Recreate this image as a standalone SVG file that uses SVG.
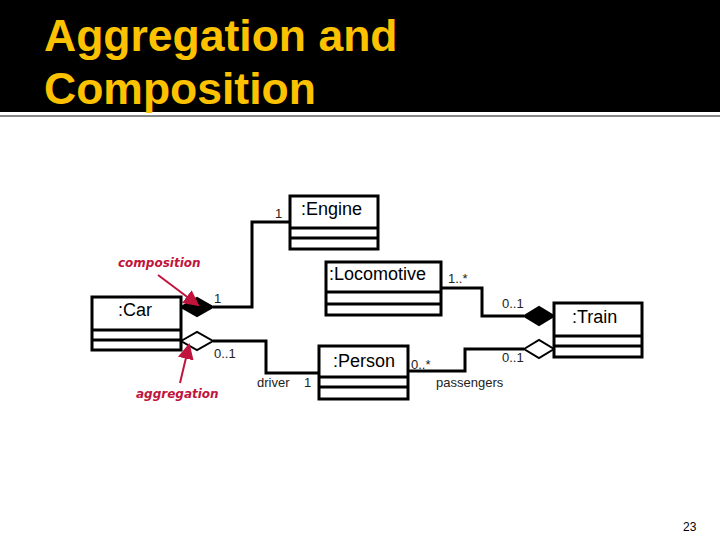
<svg xmlns="http://www.w3.org/2000/svg" width="720" height="540" viewBox="0 0 720 540">
<style>
.b{fill:#fff;stroke:#000;stroke-width:3}
.d{stroke:#000;stroke-width:3}
.c{fill:none;stroke:#000;stroke-width:3}
.n{font-family:"Liberation Sans",Arial,sans-serif;font-size:18px}
.s{font-family:"Liberation Sans",Arial,sans-serif;font-size:13px;fill:#222}
.r{font-family:"Comic Sans MS","DejaVu Sans",sans-serif;font-size:12px;font-style:italic;font-weight:bold;fill:#c0143c}
.t{font-family:"Liberation Sans",Arial,sans-serif;font-size:44.5px;font-weight:bold;fill:#fcc200}
</style>
<defs><marker id="ar" markerWidth="8" markerHeight="8" refX="7" refY="4" orient="auto"><path d="M0,0 L8,4 L0,8 z" fill="#c0143c"/></marker></defs>
<rect x="0" y="0" width="720" height="112" fill="#000"/>
<line x1="0" y1="116" x2="720" y2="116" stroke="#888" stroke-width="2"/>
<text class="t" x="44" y="51">Aggregation and</text>
<text class="t" x="44" y="104">Composition</text>
<g id="connectors">
<polyline class="c" points="213,307 252,307 252,222 290,222"/>
<polyline class="c" points="213,341 266,341 266,373 319,373"/>
<polyline class="c" points="441,288 482,288 482,316 524,316"/>
<polyline class="c" points="408,371 465,371 465,349 524,349"/>
<path d="M181,307 L197,298 L213,307 L197,316 Z" fill="#000" stroke="#000" stroke-width="2"/>
<path d="M181,341 L197,332 L213,341 L197,350 Z" fill="#fff" stroke="#000" stroke-width="2"/>
<path d="M524,316 L539,307 L554,316 L539,325 Z" fill="#000" stroke="#000" stroke-width="2"/>
<path d="M524,349 L539,340 L554,349 L539,358 Z" fill="#fff" stroke="#000" stroke-width="2"/>
<g class="s">
<text x="275" y="218">1</text><text x="214" y="303">1</text><text x="214" y="358">0..1</text>
<text x="257" y="387">driver</text><text x="304" y="387">1</text><text x="448" y="283">1..*</text>
<text x="502" y="308">0..1</text><text x="411" y="369">0..*</text><text x="502" y="362">0..1</text>
<text x="436" y="387">passengers</text></g>
</g>
<g id="engine"><rect class="b" x="290" y="196" width="88" height="53"/><line class="d" x1="290" y1="228" x2="378" y2="228"/><line class="d" x1="290" y1="238" x2="378" y2="238"/><text class="n" x="301" y="215">:Engine</text></g>
<g id="car"><rect class="b" x="92" y="297" width="89" height="53"/><line class="d" x1="92" y1="330" x2="181" y2="330"/><line class="d" x1="92" y1="340" x2="181" y2="340"/><text class="n" x="118" y="316">:Car</text></g>
<g id="locomotive"><rect class="b" x="326" y="262" width="115" height="53"/><line class="d" x1="326" y1="292" x2="441" y2="292"/><line class="d" x1="326" y1="304" x2="441" y2="304"/><text class="n" x="329" y="280">:Locomotive</text></g>
<g id="person"><rect class="b" x="319" y="346" width="89" height="53"/><line class="d" x1="319" y1="377" x2="408" y2="377"/><line class="d" x1="319" y1="387" x2="408" y2="387"/><text class="n" x="333" y="367">:Person</text></g>
<g id="train"><rect class="b" x="554" y="303" width="88" height="54"/><line class="d" x1="554" y1="336" x2="642" y2="336"/><line class="d" x1="554" y1="346" x2="642" y2="346"/><text class="n" x="572" y="323">:Train</text></g>
<g id="notes">
<text class="r" x="118" y="267">composition</text>
<line x1="158" y1="275" x2="198" y2="305" stroke="#c0143c" stroke-width="2" marker-end="url(#ar)"/>
<text class="r" x="136" y="398">aggregation</text>
<line x1="180" y1="383" x2="189" y2="345" stroke="#c0143c" stroke-width="2" marker-end="url(#ar)"/>
</g>
<text x="683" y="531" font-family="Liberation Sans,Arial,sans-serif" font-size="12">23</text>
</svg>
